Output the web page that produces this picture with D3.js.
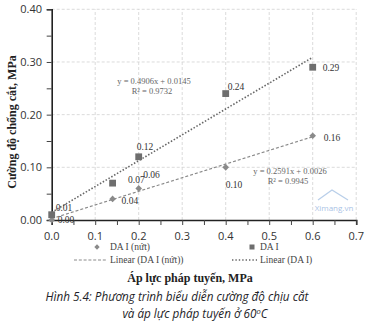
<!DOCTYPE html>
<html><head><meta charset="utf-8">
<script src="https://cdn.jsdelivr.net/npm/d3@7"></script>
<style>body{margin:0;background:#fff}svg{display:block}</style>
</head><body>
<svg id="c" width="367" height="322"></svg>
<script>
const xTicks = [0, 0.1, 0.2, 0.3, 0.4, 0.5, 0.6, 0.7];
const yTicks = [0, 0.1, 0.2, 0.3, 0.4];
const crackX = [0, 0.14, 0.2, 0.4, 0.6];
const crackY = [0, 0.04, 0.06, 0.10, 0.16];
const crackLabels = ["0.00", "0.04", "0.06", "0.10", "0.16"];
const daX = [0, 0.14, 0.2, 0.4, 0.6];
const daY = [0.01, 0.07, 0.12, 0.24, 0.29];
const daLabels = ["0.01", "0.07", "0.12", "0.24", "0.29"];
const fitCrack = {slope: 0.2591, intercept: 0.0026, r2: "0.9945"};
const fitDa = {slope: 0.4906, intercept: 0.0145, r2: "0.9732"};

const svg = d3.select("#c");
const x = d3.scaleLinear().domain([0, 0.7]).range([51.7, 356.2]);
const y = d3.scaleLinear().domain([0, 0.4]).range([220, 9.3]);
const serif = "'Liberation Serif','Times New Roman',serif";
const sans = "'Open Sans','Noto Sans',sans-serif";

// grid
svg.append("g").selectAll("line").data(xTicks.slice(1)).join("line")
  .attr("x1", d => x(d)).attr("x2", d => x(d)).attr("y1", y(0)).attr("y2", y(0.4))
  .attr("stroke", "#d2d2d2").attr("stroke-width", 0.8).attr("stroke-dasharray", "3,2");
svg.append("g").selectAll("line").data(yTicks.slice(1)).join("line")
  .attr("x1", x(0)).attr("x2", x(0.7)).attr("y1", d => y(d)).attr("y2", d => y(d))
  .attr("stroke", "#d2d2d2").attr("stroke-width", 0.8).attr("stroke-dasharray", "3,2");

// watermark
const wm = svg.append("g").attr("opacity", 0.55);
wm.append("path").attr("d", "M318,200 L332,190 L348,200").attr("fill", "none").attr("stroke", "#7fa7d8").attr("stroke-width", 1.2);
wm.append("text").attr("x", 334).attr("y", 211).attr("text-anchor", "middle")
  .attr("font-family", sans).attr("font-size", 8).attr("fill", "#5f8fd0").text("Ximang.vn");

// axes
const minorX = d3.range(0, 0.7001, 0.05);
const minorY = d3.range(0, 0.4001, 0.05);
const xAxis = d3.axisBottom(x).tickValues(minorX).tickSize(5).tickFormat("");
const yAxis = d3.axisLeft(y).tickValues(minorY).tickSize(5).tickFormat("");
const gx = svg.append("g").attr("transform", `translate(0,${y(0)})`).call(xAxis);
const gy = svg.append("g").attr("transform", `translate(${x(0)},0)`).call(yAxis);
[gx, gy].forEach(g => {
  g.select(".domain").attr("stroke", "#222").attr("stroke-width", 1.6);
  g.selectAll(".tick line").attr("stroke", "#444").attr("stroke-width", 1);
});
svg.append("g").selectAll("text").data(xTicks).join("text")
  .attr("x", d => x(d)).attr("y", 240).attr("text-anchor", "middle")
  .attr("font-family", sans).attr("font-size", 11).attr("fill", "#333")
  .text(d => d.toFixed(1));
svg.append("g").selectAll("text").data(yTicks).join("text")
  .attr("x", 42).attr("y", d => y(d) + 4).attr("text-anchor", "end")
  .attr("font-family", sans).attr("font-size", 11).attr("fill", "#333")
  .text(d => d.toFixed(2));

// trendlines
const line = d3.line().x(d => x(d[0])).y(d => y(d[1]));
svg.append("path").datum([[0, fitCrack.intercept], [0.6, fitCrack.slope * 0.6 + fitCrack.intercept]])
  .attr("d", line).attr("fill", "none").attr("stroke", "#8a8a8a").attr("stroke-width", 1.2).attr("stroke-dasharray", "3,2");
svg.append("path").datum([[0, fitDa.intercept], [0.6, fitDa.slope * 0.6 + fitDa.intercept]])
  .attr("d", line).attr("fill", "none").attr("stroke", "#666").attr("stroke-width", 1.6).attr("stroke-dasharray", "1.5,1.8");

// markers
const crack = crackX.map((v, i) => ({x: v, y: crackY[i], l: crackLabels[i]}));
const da = daX.map((v, i) => ({x: v, y: daY[i], l: daLabels[i]}));
svg.append("g").selectAll("path").data(crack).join("path")
  .attr("d", d3.symbol().type(d3.symbolDiamond2).size(28))
  .attr("transform", d => `translate(${x(d.x)},${y(d.y)})`)
  .attr("fill", "#8a8a8a");
svg.append("g").selectAll("rect").data(da).join("rect")
  .attr("x", d => x(d.x) - 3.4).attr("y", d => y(d.y) - 3.4).attr("width", 6.8).attr("height", 6.8)
  .attr("fill", "#6e6e6e");

// data labels
const crackOff = [[6, 3], [9, 5.5], [4.5, -10], [0, 21], [11, 5]];
const daOff = [[4, -4], [15.5, -0.5], [-2, -7], [2, -4], [10, 4]];
svg.append("g").selectAll("text").data(crack).join("text")
  .attr("x", (d, i) => x(d.x) + crackOff[i][0]).attr("y", (d, i) => y(d.y) + crackOff[i][1])
  .attr("font-family", serif).attr("font-size", 9.5).attr("fill", "#333").text(d => d.l);
svg.append("g").selectAll("text").data(da).join("text")
  .attr("x", (d, i) => x(d.x) + daOff[i][0]).attr("y", (d, i) => y(d.y) + daOff[i][1])
  .attr("font-family", serif).attr("font-size", 9.5).attr("fill", "#333").text(d => d.l);

// equations
const eq = (cx, cy, f) => {
  svg.append("text").attr("x", cx).attr("y", cy).attr("text-anchor", "middle")
    .attr("font-family", serif).attr("font-size", 8.5).attr("fill", "#666")
    .text(`y = ${f.slope}x  + ${f.intercept.toFixed(4)}`);
  svg.append("text").attr("x", cx - 2).attr("y", cy + 10).attr("text-anchor", "middle")
    .attr("font-family", serif).attr("font-size", 8.5).attr("fill", "#666")
    .text(`R² = ${f.r2}`);
};
eq(154, 84, fitDa);
eq(290, 174, fitCrack);

// legend
const lg = svg.append("g").attr("font-family", serif).attr("font-size", 9.5).attr("fill", "#444");
lg.append("path").attr("d", d3.symbol().type(d3.symbolDiamond2).size(18)).attr("transform", "translate(97,247)").attr("fill", "#8a8a8a");
lg.append("text").attr("x", 110).attr("y", 250).text("DA I (nứt)");
lg.append("rect").attr("x", 249.5).attr("y", 244.5).attr("width", 5).attr("height", 5).attr("fill", "#6e6e6e");
lg.append("text").attr("x", 260).attr("y", 250).text("DA I");
lg.append("line").attr("x1", 74).attr("x2", 106).attr("y1", 260).attr("y2", 260).attr("stroke", "#8a8a8a").attr("stroke-dasharray", "3,1.8");
lg.append("text").attr("x", 110).attr("y", 263).text("Linear (DA I (nứt))");
lg.append("line").attr("x1", 232).attr("x2", 257).attr("y1", 260).attr("y2", 260).attr("stroke", "#666").attr("stroke-width", 1.4).attr("stroke-dasharray", "1.4,2");
lg.append("text").attr("x", 260).attr("y", 263).text("Linear (DA I)");

// axis titles
svg.append("text").attr("x", 190).attr("y", 282).attr("text-anchor", "middle")
  .attr("font-family", serif).attr("font-weight", "bold").attr("font-size", 12).attr("fill", "#222")
  .text("Áp lực pháp tuyến, MPa");
svg.append("text").attr("transform", "translate(16,122) rotate(-90)").attr("text-anchor", "middle")
  .attr("font-family", serif).attr("font-weight", "bold").attr("font-size", 12).attr("fill", "#222")
  .text("Cường độ chống cắt, MPa");

// caption
const capStyle = t => t.attr("text-anchor", "middle").attr("font-family", sans)
  .attr("font-style", "italic").attr("font-size", 11.7).attr("fill", "#1e1e28");
svg.append("text").call(capStyle).attr("x", 177).attr("y", 301)
  .text("Hình 5.4: Phương trình biểu diễn cường độ chịu cắt");
const t2 = svg.append("text").call(capStyle).attr("x", 195).attr("y", 317.5);
t2.append("tspan").text("và áp lực pháp tuyến ở 60");
t2.append("tspan").attr("font-size", 7.5).attr("dy", -4).text("o");
t2.append("tspan").attr("dy", 4).text("C");
</script>
</body></html>
